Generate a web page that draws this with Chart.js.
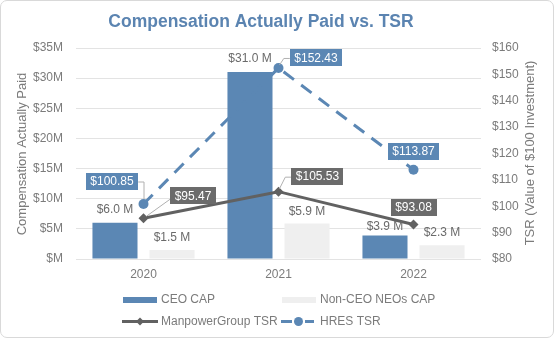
<!DOCTYPE html>
<html>
<head>
<meta charset="utf-8">
<script src="https://cdn.jsdelivr.net/npm/chart.js@4.4.1/dist/chart.umd.min.js"></script>
<style>
  html, body { margin: 0; padding: 0; background: #fff; }
  #wrap { position: relative; width: 554px; height: 338px; }
  #c { position: absolute; left: 0; top: 0; }
  #frame { position: absolute; left: 0; top: 0; width: 554px; height: 338px; box-sizing: border-box;
           border: 1px solid #d9d9d9; border-radius: 7px; pointer-events: none; }
</style>
</head>
<body>
<div id="wrap">
  <canvas id="c" width="554" height="338"></canvas>
  <div id="frame"></div>
</div>
<script>
// ---- DATA ----
const categories = ['2020', '2021', '2022'];
const ceoCap = [6.0, 31.0, 3.9];          // $M
const nonCeoCap = [1.5, 5.9, 2.3];        // $M
const manpowerTsr = [95.47, 105.53, 93.08];
const hresTsr = [100.85, 152.43, 113.87];
const leftTicks = [0, 5, 10, 15, 20, 25, 30, 35];
const rightTicks = [80, 90, 100, 110, 120, 130, 140, 150, 160];

const chartTitle = 'Compensation Actually Paid vs. TSR';
const leftAxisTitle = 'Compensation Actually Paid';
const rightAxisTitle = 'TSR (Value of $100 Investment)';
const seriesNames = ['CEO CAP', 'Non-CEO NEOs CAP', 'ManpowerGroup TSR', 'HRES TSR'];

// ---- STYLE ----
const BLUE = '#5b87b4';
const LIGHT = '#efefef';
const DARK = '#616161';
const LABELGRAY = '#6a6a6a';
const TEXTGRAY = '#7b7b7b';
const FONT = '"Liberation Sans", Arial, Helvetica, sans-serif';

// label placement relative to its point (dx, dy of box centre) and leader style
const hresLabelLayout = [
  { dx: -31.5, dy: -22.5, leader: 'elbowRightDown' },
  { dx: 37.5, dy: -10, leader: 'leftElbow' },
  { dx: 0, dy: -18, leader: 'none' }
];
const mpLabelLayout = [
  { dx: 49.5, dy: -22.5, leader: 'diagLeft' },
  { dx: 39, dy: -15, leader: 'leftElbow' },
  { dx: 0, dy: -17, leader: 'none' }
];
// gap between bar top and its value label, per dataset / category
const barLabelGap = [[13, 13.5, 9], [12, 12, 12]];

function boxWidth(ctx, text) {
  ctx.font = '12px ' + FONT;
  return ctx.measureText(text).width + 9;
}
function drawBox(ctx, text, cx, cy, bg) {
  ctx.font = '12px ' + FONT;
  const w = ctx.measureText(text).width + 9, h = 17;
  ctx.fillStyle = bg;
  ctx.fillRect(Math.round(cx - w / 2), Math.round(cy - h / 2), Math.round(w), h);
  ctx.fillStyle = '#ffffff';
  ctx.textAlign = 'center';
  ctx.textBaseline = 'middle';
  ctx.fillText(text, cx, cy + 0.5);
}
function drawLeader(ctx, kind, px, py, cx, cy, w, h) {
  if (kind === 'none') return;
  ctx.save();
  ctx.strokeStyle = '#b0b0b0';
  ctx.lineWidth = 1;
  ctx.beginPath();
  if (kind === 'elbowRightDown') {
    ctx.moveTo(cx + w / 2, cy + 0.5);
    ctx.lineTo(px + 0.5, cy + 0.5);
    ctx.lineTo(px + 0.5, py - 5);
  } else if (kind === 'leftElbow') {
    ctx.moveTo(cx - w / 2, cy + 0.5);
    ctx.lineTo(cx - w / 2 - 6, cy + 0.5);
    ctx.lineTo(px + 1, py - 3);
  } else if (kind === 'diagLeft') {
    ctx.moveTo(cx - w / 2, cy + h / 2 - 5);
    ctx.lineTo(px + 3, py - 2);
  }
  ctx.stroke();
  ctx.restore();
}

const overlayPlugin = {
  id: 'overlay',
  afterDatasetsDraw(chart) {
    const ctx = chart.ctx;
    ctx.save();
    // bar value labels
    [0, 1].forEach(di => {
      const meta = chart.getDatasetMeta(di);
      const vals = chart.data.datasets[di].data;
      meta.data.forEach((bar, i) => {
        ctx.font = '12px ' + FONT;
        ctx.fillStyle = LABELGRAY;
        ctx.textAlign = 'center';
        ctx.textBaseline = 'middle';
        ctx.fillText('$' + vals[i].toFixed(1) + ' M', bar.x, bar.y - barLabelGap[di][i]);
      });
    });
    // line value labels
    const groups = [
      { di: 3, vals: hresTsr, layout: hresLabelLayout, bg: BLUE },
      { di: 2, vals: manpowerTsr, layout: mpLabelLayout, bg: '#6b6b6b' }
    ];
    groups.forEach(g => {
      const meta = chart.getDatasetMeta(g.di);
      meta.data.forEach((pt, i) => {
        const L = g.layout[i];
        const text = '$' + g.vals[i].toFixed(2);
        const cx = pt.x + L.dx, cy = pt.y + L.dy;
        const w = boxWidth(ctx, text);
        drawLeader(ctx, L.leader, pt.x, pt.y, cx, cy, w, 17);
      });
    });
    groups.forEach(g => {
      const meta = chart.getDatasetMeta(g.di);
      meta.data.forEach((pt, i) => {
        const L = g.layout[i];
        drawBox(ctx, '$' + g.vals[i].toFixed(2), pt.x + L.dx, pt.y + L.dy, g.bg);
      });
    });
    ctx.restore();
  },
  afterDraw(chart) {
    const ctx = chart.ctx;
    ctx.save();
    // title
    ctx.font = 'bold 17.5px ' + FONT;
    ctx.fillStyle = '#5b84b1';
    ctx.textAlign = 'center';
    ctx.textBaseline = 'middle';
    ctx.fillText(chartTitle, 261, 22);
    // axis titles
    ctx.font = '13px ' + FONT;
    ctx.fillStyle = TEXTGRAY;
    ctx.save();
    ctx.translate(22, 154);
    ctx.rotate(-Math.PI / 2);
    ctx.fillText(leftAxisTitle, 0, 0);
    ctx.restore();
    ctx.save();
    ctx.translate(530, 153);
    ctx.rotate(-Math.PI / 2);
    ctx.fillText(rightAxisTitle, 0, 0);
    ctx.restore();
    // legend
    ctx.font = '12px ' + FONT;
    ctx.textAlign = 'left';
    ctx.textBaseline = 'middle';
    // row 1
    ctx.fillStyle = BLUE;
    ctx.fillRect(123, 297, 34, 6);
    ctx.fillStyle = LIGHT;
    ctx.fillRect(282, 297, 34, 6);
    ctx.fillStyle = TEXTGRAY;
    ctx.fillText(seriesNames[0], 161, 300);
    ctx.fillText(seriesNames[1], 320, 300);
    // row 2
    ctx.strokeStyle = DARK;
    ctx.lineWidth = 3;
    ctx.beginPath(); ctx.moveTo(122, 321.5); ctx.lineTo(158, 321.5); ctx.stroke();
    ctx.fillStyle = DARK;
    ctx.beginPath();
    ctx.moveTo(140, 317.5); ctx.lineTo(144, 321.5); ctx.lineTo(140, 325.5); ctx.lineTo(136, 321.5); ctx.closePath(); ctx.fill();
    ctx.strokeStyle = BLUE;
    ctx.beginPath(); ctx.moveTo(281, 321.5); ctx.lineTo(292, 321.5); ctx.stroke();
    ctx.beginPath(); ctx.moveTo(305, 321.5); ctx.lineTo(314, 321.5); ctx.stroke();
    ctx.fillStyle = BLUE;
    ctx.beginPath(); ctx.arc(298.5, 321.5, 4.5, 0, Math.PI * 2); ctx.fill();
    ctx.fillStyle = TEXTGRAY;
    ctx.fillText(seriesNames[2], 161, 322);
    ctx.fillText(seriesNames[3], 320, 322);
    ctx.restore();
  }
};

new Chart(document.getElementById('c'), {
  type: 'bar',
  data: {
    labels: categories,
    datasets: [
      { label: seriesNames[0], data: ceoCap, backgroundColor: BLUE, yAxisID: 'y', order: 2,
        categoryPercentage: 0.845, barPercentage: 0.79 },
      { label: seriesNames[1], data: nonCeoCap, backgroundColor: LIGHT, yAxisID: 'y', order: 2,
        categoryPercentage: 0.845, barPercentage: 0.79 },
      { type: 'line', label: seriesNames[2], data: manpowerTsr, yAxisID: 'y1', order: 1,
        borderColor: DARK, backgroundColor: DARK, borderWidth: 3,
        pointStyle: 'rectRot', pointRadius: 5, pointBorderWidth: 0, tension: 0 },
      { type: 'line', label: seriesNames[3], data: hresTsr, yAxisID: 'y1', order: 0,
        borderColor: BLUE, backgroundColor: BLUE, borderWidth: 3, borderDash: [13, 9],
        pointStyle: 'circle', pointRadius: 5, pointBorderWidth: 0, tension: 0 }
    ]
  },
  options: {
    responsive: false,
    animation: false,
    layout: { padding: { left: 0, right: 0, top: 48, bottom: 0 } },
    plugins: { legend: { display: false }, title: { display: false }, tooltip: { enabled: false } },
    scales: {
      x: {
        grid: { display: false },
        border: { display: false },
        ticks: { color: TEXTGRAY, font: { family: FONT, size: 12 }, padding: 0 },
        afterFit(s) { s.height = 79; }
      },
      y: {
        position: 'left',
        min: 0, max: 35,
        afterBuildTicks(s) { s.ticks = leftTicks.map(v => ({ value: v })); },
        grid: { color: '#e3e3e3', lineWidth: 1, drawTicks: false },
        border: { display: false },
        ticks: { color: TEXTGRAY, font: { family: FONT, size: 12 }, padding: 13,
                 callback: v => v === 0 ? '$M' : '$' + v + 'M' },
        afterFit(s) { s.width = 76; }
      },
      y1: {
        position: 'right',
        min: 80, max: 160,
        afterBuildTicks(s) { s.ticks = rightTicks.map(v => ({ value: v })); },
        grid: { display: false, drawTicks: false },
        border: { display: false },
        ticks: { color: TEXTGRAY, font: { family: FONT, size: 12 }, padding: 11,
                 callback: v => '$' + v },
        afterFit(s) { s.width = 73; }
      }
    }
  },
  plugins: [overlayPlugin]
});
</script>
</body>
</html>
